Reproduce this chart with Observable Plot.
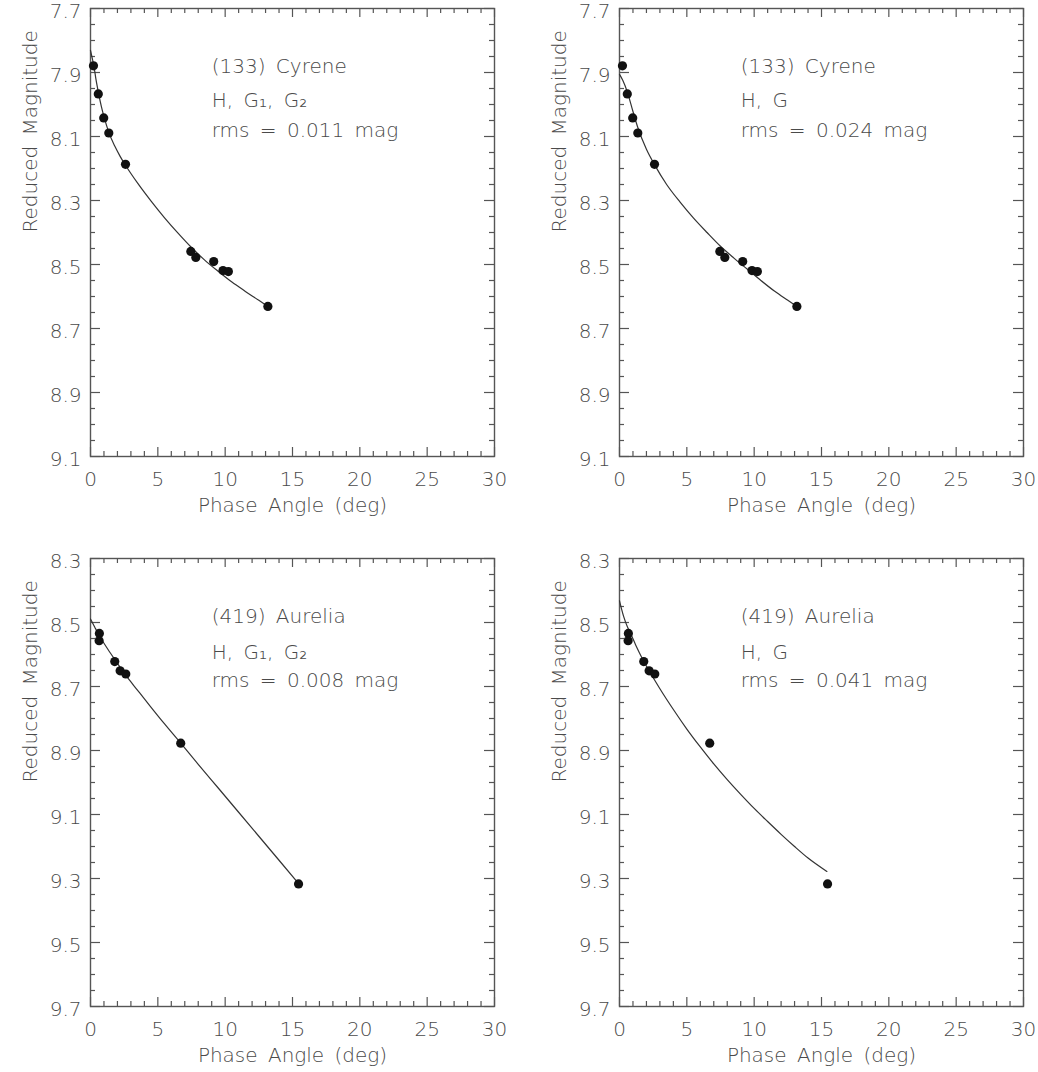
<!DOCTYPE html>
<html>
<head>
<meta charset="utf-8">
<script src="https://cdn.jsdelivr.net/npm/d3@7"></script>
<script src="https://cdn.jsdelivr.net/npm/@observablehq/plot@0.6"></script>
<style>
  html, body { margin: 0; padding: 0; background: #fff; overflow: hidden; }
  #wrap { position: relative; width: 1038px; height: 1072px; }
  .panel { position: absolute; }
</style>
</head>
<body>
<div id="wrap"></div>
<script>
// ---------- data ----------
const xTickLabels = [0, 5, 10, 15, 20, 25, 30];
const cyreneYTicks = [7.7, 7.9, 8.1, 8.3, 8.5, 8.7, 8.9, 9.1];
const aureliaYTicks = [8.3, 8.5, 8.7, 8.9, 9.1, 9.3, 9.5, 9.7];

// (133) Cyrene observations
const cyreneAngle = [0.22, 0.58, 0.98, 1.36, 2.6, 7.45, 7.82, 9.15, 9.84, 10.24, 13.17];
const cyreneMag   = [7.879, 7.967, 8.042, 8.089, 8.187, 8.459, 8.478, 8.491, 8.519, 8.522, 8.631];

// (419) Aurelia observations
const aureliaAngle = [0.66, 0.64, 1.8, 2.2, 2.62, 6.7, 15.45];
const aureliaMag   = [8.534, 8.557, 8.622, 8.651, 8.661, 8.877, 9.317];

// Fitted phase curves
const cyreneG12Angle = [0, 0.1, 0.25, 0.4, 0.6, 0.8, 1.0, 1.36, 1.8, 2.2, 2.6, 3.5, 4.5, 5.5, 6.5, 7.5, 8.5, 9.5, 10.5, 11.5, 12.5, 13.2];
const cyreneG12Mag   = [7.831, 7.850, 7.879, 7.920, 7.965, 8.005, 8.038, 8.087, 8.130, 8.162, 8.190, 8.246, 8.302, 8.354, 8.402, 8.447, 8.487, 8.522, 8.555, 8.584, 8.612, 8.632];

const cyreneGAngle = [0, 0.25, 0.59, 1.0, 1.36, 2.0, 2.6, 3.5, 4.5, 5.5, 6.5, 7.5, 8.5, 9.5, 10.5, 11.5, 12.5, 13.2];
const cyreneGMag   = [7.906, 7.925, 7.962, 8.022, 8.072, 8.140, 8.188, 8.250, 8.305, 8.355, 8.400, 8.443, 8.480, 8.515, 8.550, 8.583, 8.612, 8.632];

const aureliaG12Angle = [0, 0.3, 0.64, 1.0, 1.5, 2.0, 2.6, 3.5, 4.5, 5.5, 6.7, 8, 9.5, 11, 12.5, 14, 15.44];
const aureliaG12Mag   = [8.489, 8.513, 8.540, 8.565, 8.597, 8.628, 8.664, 8.712, 8.765, 8.817, 8.877, 8.943, 9.018, 9.093, 9.168, 9.243, 9.315];

const aureliaGAngle = [0, 0.3, 0.6, 0.84, 1.2, 1.7, 2.2, 3, 4, 5, 6, 7, 8, 9, 10, 11, 12, 13, 14, 15.4];
const aureliaGMag   = [8.432, 8.480, 8.515, 8.536, 8.570, 8.613, 8.651, 8.707, 8.772, 8.833, 8.889, 8.942, 8.991, 9.037, 9.081, 9.122, 9.162, 9.200, 9.236, 9.278];

const cyreneLabelsG12 = ["(133) Cyrene", "H, G\u2081, G\u2082", "rms = 0.011 mag"];
const cyreneLabelsG   = ["(133) Cyrene", "H, G", "rms = 0.024 mag"];
const aureliaLabelsG12 = ["(419) Aurelia", "H, G\u2081, G\u2082", "rms = 0.008 mag"];
const aureliaLabelsG   = ["(419) Aurelia", "H, G", "rms = 0.041 mag"];
const cyreneLabelY  = [7.881, 7.988, 8.081];
const aureliaLabelY = [8.482, 8.594, 8.682];
const labelX = 9;

// ---------- helpers ----------
const zip = (xs, ys) => xs.map((x, i) => ({x, y: ys[i]}));
const FW = 404, FH = 448;
const AX = "#555";
const TXT = "#4a4a4a";

function panel({left, top, width, marginRight, yTicks, pts, fit, labels, labelY}) {
  const y0 = yTicks[0], y1 = yTicks[yTicks.length - 1];
  const xMinor = d3.range(0, 31, 1).filter(d => d % 5 !== 0);
  const yMinor = d3.range(0, 29).map(i => +(y0 + i * 0.05).toFixed(2)).filter(v => !yTicks.some(t => Math.abs(t - v) < 1e-6));
  const svg = Plot.plot({
    width, height: 10 + FH + 64,
    marginTop: 10, marginLeft: 90, marginRight, marginBottom: 64,
    x: {domain: [0, 30]},
    y: {domain: [y0, y1], reverse: true},
    style: {fontFamily: "'DejaVu Sans', sans-serif", fontSize: "20px", fontWeight: 200, color: TXT, background: "white", wordSpacing: "4px", overflow: "visible"},
    marks: [
      // minor ticks (inward, mirrored)
      Plot.ruleX(xMinor, {x: d => d, insetTop: FH - 5, stroke: AX, strokeWidth: 1.2}),
      Plot.ruleX(xMinor, {x: d => d, insetBottom: FH - 5, stroke: AX, strokeWidth: 1.2}),
      Plot.ruleY(yMinor, {y: d => d, insetRight: FW - 5, stroke: AX, strokeWidth: 1.2}),
      Plot.ruleY(yMinor, {y: d => d, insetLeft: FW - 5, stroke: AX, strokeWidth: 1.2}),
      // major ticks
      Plot.ruleX(xTickLabels, {x: d => d, insetTop: FH - 9, stroke: AX, strokeWidth: 1.2}),
      Plot.ruleX(xTickLabels, {x: d => d, insetBottom: FH - 9, stroke: AX, strokeWidth: 1.2}),
      Plot.ruleY(yTicks, {y: d => d, insetRight: FW - 10, stroke: AX, strokeWidth: 1.2}),
      Plot.ruleY(yTicks, {y: d => d, insetLeft: FW - 10, stroke: AX, strokeWidth: 1.2}),
      Plot.frame({stroke: AX, strokeWidth: 1.4}),
      Plot.axisX({ticks: xTickLabels, tickSize: 0, tickPadding: 15, label: null, tickFormat: d => String(d)}),
      Plot.axisY({ticks: yTicks, tickSize: 0, tickPadding: 9, label: null, tickFormat: d3.format(".1f"), dy: 3}),
      Plot.text(["Phase Angle (deg)"], {frameAnchor: "bottom", lineAnchor: "middle", dy: 49}),
      Plot.text(["Reduced Magnitude"], {frameAnchor: "left", lineAnchor: "middle", rotate: -90, dx: -60}),
      Plot.line(fit, {x: "x", y: "y", stroke: "#333", strokeWidth: 1.2, curve: "monotone-x"}),
      Plot.dot(pts, {x: "x", y: "y", r: 4.6, fill: "#111", stroke: "none"}),
      Plot.text(labels.map((t, i) => ({t, y: labelY[i]})), {x: () => labelX, y: "y", text: "t", textAnchor: "start"})
    ]
  });
  const div = document.createElement("div");
  div.className = "panel";
  div.style.left = left + "px";
  div.style.top = top + "px";
  div.appendChild(svg);
  document.getElementById("wrap").appendChild(div);
}

const cyrenePts = zip(cyreneAngle, cyreneMag);
const aureliaPts = zip(aureliaAngle, aureliaMag);

panel({left: 0, top: -2, width: 519, marginRight: 25, yTicks: cyreneYTicks, pts: cyrenePts,
       fit: zip(cyreneG12Angle, cyreneG12Mag), labels: cyreneLabelsG12, labelY: cyreneLabelY});
panel({left: 529, top: -2, width: 509, marginRight: 15, yTicks: cyreneYTicks, pts: cyrenePts,
       fit: zip(cyreneGAngle, cyreneGMag), labels: cyreneLabelsG, labelY: cyreneLabelY});
panel({left: 0, top: 548, width: 519, marginRight: 25, yTicks: aureliaYTicks, pts: aureliaPts,
       fit: zip(aureliaG12Angle, aureliaG12Mag), labels: aureliaLabelsG12, labelY: aureliaLabelY});
panel({left: 529, top: 548, width: 509, marginRight: 15, yTicks: aureliaYTicks, pts: aureliaPts,
       fit: zip(aureliaGAngle, aureliaGMag), labels: aureliaLabelsG, labelY: aureliaLabelY});
</script>
</body>
</html>
